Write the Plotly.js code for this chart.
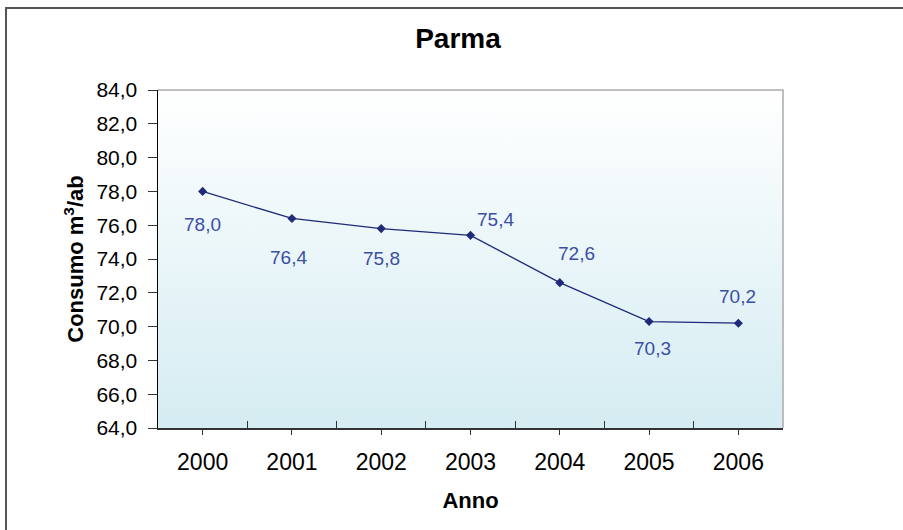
<!DOCTYPE html>
<html>
<head>
<meta charset="utf-8">
<script src="https://cdn.plot.ly/plotly-3.0.1.min.js"></script>
<style>
html,body{margin:0;padding:0;background:#fff;width:903px;height:530px;overflow:hidden;}
#frame{position:absolute;left:5px;top:7px;width:920px;height:540px;border-left:2px solid #555;border-top:2px solid #555;}
#chart{position:absolute;left:0;top:0;width:903px;height:530px;}
</style>
</head>
<body>
<div id="frame"></div>
<div id="chart"></div>
<script>
const years = ['2000','2001','2002','2003','2004','2005','2006'];
const consumo = [78.0, 76.4, 75.8, 75.4, 72.6, 70.3, 70.2];
const yTicks = [64,66,68,70,72,74,76,78,80,82,84];
// label offsets in pixels (x right, y up)
const labelShiftX = [0, -3, 0, 25, 17, 3, -1];
const labelShiftY = [-33, -39, -30, 16, 29, -27, 27];

const grad = 'data:image/svg+xml;utf8,' + encodeURIComponent(
 '<svg xmlns="http://www.w3.org/2000/svg" width="100" height="100" preserveAspectRatio="none">' +
 '<defs><linearGradient id="g" x1="0" y1="0" x2="0" y2="1">' +
 '<stop offset="0" stop-color="#ffffff"/><stop offset="1" stop-color="#d4ecf2"/></linearGradient></defs>' +
 '<rect width="100" height="100" fill="url(#g)"/></svg>');

const font = 'Liberation Sans, Arial, sans-serif';

const traces = [
 {
  x: years, y: consumo, type: 'scatter', mode: 'lines+markers',
  line: {color: '#1f2a78', width: 1.3},
  marker: {symbol: 'diamond', size: 7, color: '#1f2a78'},
  cliponaxis: false, hoverinfo: 'skip', showlegend: false
 },
 {
  x: years, y: consumo, xaxis: 'x2', type: 'scatter', mode: 'markers',
  marker: {opacity: 0}, hoverinfo: 'skip', showlegend: false
 }
];

// on a category axis, annotation x is the category's serial index
const annotations = years.map((yr, i) => ({
  x: i, y: consumo[i], xref: 'x', yref: 'y',
  text: consumo[i].toFixed(1).replace('.', ','),
  showarrow: false, xanchor: 'center', yanchor: 'middle',
  xshift: labelShiftX[i], yshift: labelShiftY[i],
  font: {family: font, size: 19, color: '#3a4ea6'}
}));

const layout = {
 width: 903, height: 530,
 margin: {l: 158, r: 120, t: 90, b: 102},
 paper_bgcolor: 'rgba(0,0,0,0)', plot_bgcolor: 'rgba(0,0,0,0)',
 separators: ',.',
 font: {family: font, size: 21, color: '#000'},
 title: {text: '<b>Parma</b>', font: {family: font, size: 28, color: '#000'},
   x: 0.48, xref: 'paper', y: 1 - 38/530, yref: 'container', xanchor: 'center', yanchor: 'middle'},
 xaxis: {
  type: 'category', categoryarray: years, range: [-0.5, 6.5],
  showline: true, linecolor: '#333', linewidth: 1.5,
  ticks: 'outside', ticklen: 5, tickcolor: '#333', tickwidth: 1,
  ticklabelstandoff: 8,
  showgrid: false, zeroline: false,
  tickfont: {family: font, size: 23, color: '#000'},
  title: {text: '<b>Anno</b>', font: {family: font, size: 22, color: '#000'}, standoff: 18}
 },
 xaxis2: {
  type: 'category', categoryarray: years, range: [-0.5, 6.5], overlaying: 'x', side: 'bottom',
  tickson: 'boundaries', ticks: 'inside', ticklen: 7, tickcolor: '#333', tickwidth: 1,
  showticklabels: false, showgrid: false, showline: false, zeroline: false
 },
 yaxis: {
  range: [64, 84], tickvals: yTicks, tickformat: '.1f',
  showline: true, linecolor: '#000', linewidth: 1.5,
  ticks: 'outside', ticklen: 9, tickcolor: '#333',
  ticklabelstandoff: 6,
  showgrid: false, zeroline: false,
  tickfont: {family: font, size: 21, color: '#000'},
  title: {text: '<b>Consumo m<sup>3</sup>/ab</b>', font: {family: font, size: 22, color: '#000'}, standoff: 6}
 },
 annotations: annotations,
 images: [{source: grad, xref: 'paper', yref: 'paper', x: 0, y: 1, sizex: 1, sizey: 1,
   sizing: 'stretch', xanchor: 'left', yanchor: 'top', layer: 'below'}],
 shapes: [{type: 'path', xref: 'paper', yref: 'paper', path: 'M 0 1 L 1 1 L 1 0',
   line: {color: '#aaaaaa', width: 1.5}}]
};

Plotly.newPlot('chart', traces, layout, {staticPlot: true, displayModeBar: false});
</script>
</body>
</html>
